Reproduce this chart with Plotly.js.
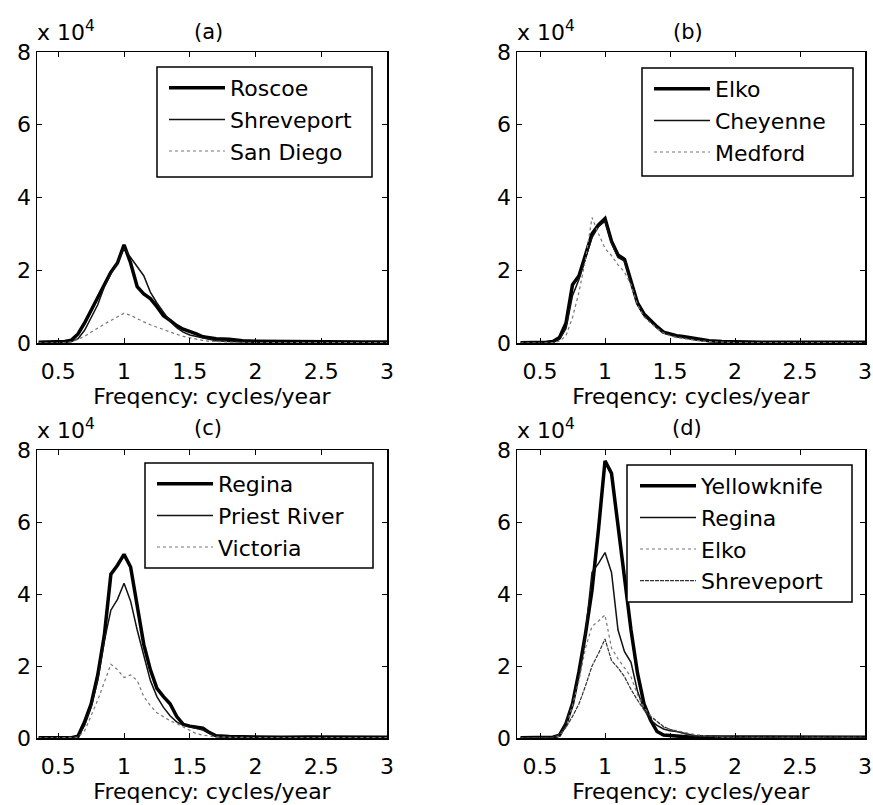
<!DOCTYPE html>
<html>
<head>
<meta charset="utf-8">
<script src="https://cdn.plot.ly/plotly-3.0.1.min.js"></script>
<style>
html,body{margin:0;padding:0;background:#fff;}
#chart{width:873px;height:805px;}
</style>
</head>
<body>
<div id="chart"></div>
<script>
// Shared frequency grid (cycles/year)
const freq = [0.35,0.45,0.55,0.6,0.65,0.7,0.75,0.8,0.85,0.9,0.95,1.0,1.05,1.1,1.15,1.2,1.25,1.3,1.35,1.4,1.45,1.5,1.55,1.6,1.65,1.7,1.8,1.9,2.0,2.2,2.4,2.6,2.8,3.0];

// Values in units of 10^4
// Panel (a)
const roscoeA     = [0.02,0.03,0.04,0.08,0.25,0.55,0.9,1.3,1.65,1.95,2.2,2.7,2.2,1.55,1.35,1.22,1.0,0.75,0.62,0.48,0.38,0.32,0.25,0.17,0.14,0.12,0.1,0.06,0.05,0.04,0.04,0.03,0.03,0.03];
const shreveportA = [0,0,0.02,0.04,0.12,0.35,0.7,1.05,1.55,1.9,2.2,2.6,2.35,2.1,1.85,1.4,1.1,0.85,0.6,0.42,0.3,0.22,0.18,0.12,0.08,0.06,0.04,0.02,0.02,0.01,0.01,0.01,0.01,0.01];
const sanDiegoA   = [0,0,0.01,0.03,0.1,0.18,0.3,0.42,0.52,0.62,0.72,0.82,0.76,0.66,0.58,0.5,0.43,0.36,0.3,0.24,0.18,0.14,0.1,0.07,0.05,0.04,0.02,0.01,0.01,0.01,0.01,0.01,0.01,0.01];
// Panel (b)
const elkoB       = [0.01,0.01,0.02,0.04,0.15,0.55,1.6,1.85,2.4,3.0,3.25,3.42,2.8,2.42,2.3,1.7,1.1,0.8,0.62,0.45,0.3,0.24,0.2,0.18,0.15,0.1,0.06,0.04,0.03,0.02,0.02,0.02,0.02,0.02];
const cheyenneB   = [0,0,0.01,0.03,0.1,0.4,1.3,1.75,2.3,2.9,3.2,3.35,2.75,2.35,2.25,1.65,1.05,0.75,0.58,0.42,0.28,0.22,0.18,0.15,0.12,0.08,0.05,0.03,0.02,0.01,0.01,0.01,0.01,0.01];
const medfordB    = [0,0,0,0.01,0.05,0.2,0.7,1.4,2.3,3.45,3.0,2.6,2.4,2.15,1.95,1.6,1.05,0.72,0.55,0.4,0.28,0.2,0.15,0.12,0.1,0.07,0.04,0.02,0.01,0.01,0.01,0.01,0.01,0.01];
// Panel (c)
const reginaC     = [0.01,0.01,0.01,0.01,0.05,0.45,0.95,1.75,2.85,4.55,4.8,5.1,4.75,3.7,2.6,1.9,1.38,1.15,0.95,0.6,0.38,0.33,0.31,0.27,0.15,0.06,0.04,0.03,0.03,0.02,0.03,0.02,0.02,0.02];
const priestRiverC= [0,0,0,0,0.03,0.35,0.85,1.6,2.7,3.55,3.85,4.3,3.8,3.0,2.3,1.6,1.15,0.85,0.62,0.45,0.35,0.3,0.26,0.22,0.12,0.05,0.03,0.02,0.02,0.01,0.01,0.01,0.01,0.01];
const victoriaC   = [0,0,0,0,0.02,0.2,0.6,1.05,1.55,2.05,1.9,1.68,1.75,1.6,1.15,0.9,0.7,0.58,0.48,0.4,0.3,0.2,0.12,0.08,0.05,0.03,0.02,0.01,0.01,0.01,0.01,0.01,0.01,0.01];
// Panel (d)
const yellowknifeD= [0.01,0.01,0.01,0.02,0.08,0.4,0.95,1.85,2.9,4.1,5.8,7.7,7.35,5.9,4.4,3.0,1.8,0.95,0.5,0.18,0.08,0.06,0.05,0.04,0.03,0.03,0.02,0.02,0.02,0.02,0.02,0.02,0.02,0.02];
const reginaD     = [0,0,0,0.01,0.05,0.45,0.95,1.75,2.9,4.6,4.85,5.15,4.6,3.0,2.4,2.1,1.3,0.8,0.5,0.35,0.25,0.2,0.18,0.15,0.1,0.06,0.04,0.02,0.02,0.02,0.02,0.02,0.02,0.02];
const elkoD       = [0,0,0,0.01,0.05,0.3,0.9,1.6,2.5,3.1,3.25,3.42,2.5,2.2,1.95,1.7,1.2,0.85,0.62,0.45,0.3,0.24,0.2,0.17,0.13,0.09,0.05,0.02,0.02,0.02,0.02,0.02,0.02,0.02];
const shreveportD = [0,0,0,0.02,0.1,0.3,0.6,0.95,1.45,2.0,2.35,2.75,2.15,1.95,1.7,1.35,1.05,0.78,0.6,0.45,0.32,0.24,0.18,0.12,0.08,0.06,0.04,0.02,0.02,0.02,0.02,0.02,0.02,0.02];

const panelTitles = ['(a)','(b)','(c)','(d)'];
const yTickVals = [0,2,4,6,8];
const xTickVals = [0.5,1,1.5,2,2.5,3];
const xTitle = 'Freqency: cycles/year';

const FONT = 'DejaVu Sans, Arial, sans-serif';
const scale = v => v.map(a => a * 1e4);

const styles = {
  thick: {color:'#000', width:3.5, dash:'solid'},
  thin:  {color:'#111', width:1.5, dash:'solid'},
  dot:   {color:'#777', width:1.2, dash:'dot'},
  dash:  {color:'#333', width:1.2, dash:'4px,1px'}
};

function tr(name, y, ax, leg, st){
  return {x: freq, y: scale(y), name: name, type:'scatter', mode:'lines',
    xaxis: 'x'+ax, yaxis: 'y'+ax, legend: leg, line: styles[st]};
}

const data = [
  tr('Roscoe', roscoeA, '', 'legend', 'thick'),
  tr('Shreveport', shreveportA, '', 'legend', 'thin'),
  tr('San Diego', sanDiegoA, '', 'legend', 'dot'),
  tr('Elko', elkoB, '2', 'legend2', 'thick'),
  tr('Cheyenne', cheyenneB, '2', 'legend2', 'thin'),
  tr('Medford', medfordB, '2', 'legend2', 'dot'),
  tr('Regina', reginaC, '3', 'legend3', 'thick'),
  tr('Priest River', priestRiverC, '3', 'legend3', 'thin'),
  tr('Victoria', victoriaC, '3', 'legend3', 'dot'),
  tr('Yellowknife', yellowknifeD, '4', 'legend4', 'thick'),
  tr('Regina', reginaD, '4', 'legend4', 'thin'),
  tr('Elko', elkoD, '4', 'legend4', 'dot'),
  tr('Shreveport', shreveportD, '4', 'legend4', 'dash')
];

const W = 873, H = 805;
const boxes = [
  {l:37, r:387, t:52, b:343},
  {l:517, r:865, t:52, b:343},
  {l:37, r:387, t:450, b:738},
  {l:517, r:865, t:450, b:738}
];
const xRanges = [[0.338,3],[0.323,3],[0.338,3],[0.323,3]];

function xaxis(i){
  const bx = boxes[i];
  return {domain:[bx.l/W, bx.r/W], range:xRanges[i], anchor: i===0?'y':'y'+(i+1),
    showline:true, mirror:'ticks', linecolor:'#000', linewidth:1.5,
    ticks:'inside', ticklen:5, tickcolor:'#000', tickwidth:1,
    tickvals:xTickVals, ticktext:xTickVals.map(String), showgrid:false, zeroline:false,
    ticklabelstandoff:8,
    tickfont:{family:FONT, size:22, color:'#000'},
    title:{text:xTitle, font:{family:FONT, size:22, color:'#000'}, standoff:2}};
}
function yaxis(i){
  const bx = boxes[i];
  return {domain:[1-bx.b/H, 1-bx.t/H], range:[0,80000], anchor: i===0?'x':'x'+(i+1),
    showline:true, mirror:'ticks', linecolor:'#000', linewidth:1.5,
    ticks:'inside', ticklen:5, tickcolor:'#000', tickwidth:1,
    tickvals:yTickVals.map(v=>v*1e4), ticktext:yTickVals.map(String),
    showgrid:false, zeroline:false,
    tickfont:{family:FONT, size:22, color:'#000'}};
}

// legend frames (pixel boxes) and legend content left edge / top
const legendFrames = [
  {l:157, r:372, t:67, b:177, x:164},
  {l:642, r:853, t:68, b:176, x:649},
  {l:145, r:373, t:463, b:568, x:152},
  {l:627, r:852, t:465, b:602, x:635}
];

function legend(f){
  return {x:f.x/W, y:1-f.t/H, xanchor:'left', yanchor:'top',
    bgcolor:'rgba(0,0,0,0)', borderwidth:0,
    font:{family:FONT, size:22, color:'#000'}, itemwidth:56, tracegroupgap:0};
}

const shapes = legendFrames.map(f => ({type:'rect', xref:'paper', yref:'paper',
  x0:f.l/W, x1:f.r/W, y0:1-f.b/H, y1:1-f.t/H, layer:'above',
  fillcolor:'#fff', line:{color:'#000', width:1.5}}));

const annotations = [];
const titlePos = [[208,32],[688,32],[208,428],[687,428]];
boxes.forEach((bx,i)=>{
  annotations.push({xref:'paper', yref:'paper', x:titlePos[i][0]/W, y:1-titlePos[i][1]/H,
    text:panelTitles[i], showarrow:false, xanchor:'center', yanchor:'middle',
    font:{family:FONT, size:21, color:'#000'}});
  annotations.push({xref:'paper', yref:'paper', x:(bx.l-2)/W, y:1-(bx.t-5)/H,
    text:'x 10<sup>4</sup>', showarrow:false, xanchor:'left', yanchor:'bottom',
    font:{family:FONT, size:22, color:'#000'}});
});

const layout = {
  width:W, height:H, margin:{l:0,r:0,t:0,b:0},
  paper_bgcolor:'#fff', plot_bgcolor:'#fff',
  font:{family:FONT, color:'#000'},
  xaxis:xaxis(0), xaxis2:xaxis(1), xaxis3:xaxis(2), xaxis4:xaxis(3),
  yaxis:yaxis(0), yaxis2:yaxis(1), yaxis3:yaxis(2), yaxis4:yaxis(3),
  legend:legend(legendFrames[0]), legend2:legend(legendFrames[1]),
  legend3:legend(legendFrames[2]), legend4:legend(legendFrames[3]),
  shapes:shapes,
  annotations:annotations,
  showlegend:true
};

Plotly.newPlot('chart', data, layout, {staticPlot:true, displayModeBar:false});
</script>
</body>
</html>
